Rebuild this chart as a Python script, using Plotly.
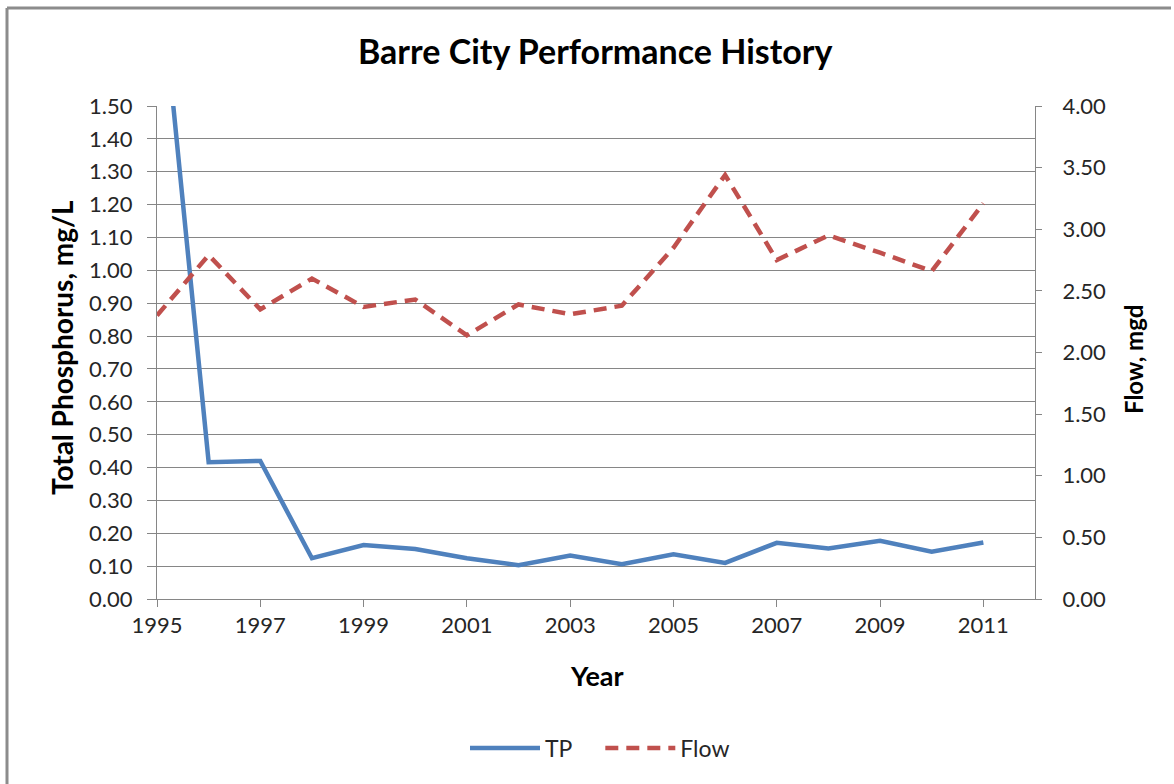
import plotly.graph_objects as go

years = list(range(1995, 2012))
tp = [2.00, 0.416, 0.420, 0.124, 0.164, 0.152, 0.124, 0.103, 0.132,
      0.106, 0.136, 0.110, 0.171, 0.154, 0.177, 0.144, 0.172]
flow = [2.30, 2.79, 2.35, 2.60, 2.37, 2.43, 2.14, 2.39, 2.31,
        2.38, 2.85, 3.44, 2.75, 2.95, 2.81, 2.66, 3.21]

left_ticks = [round(i * 0.1, 2) for i in range(16)]
right_ticks = [round(i * 0.5, 2) for i in range(9)]
x_ticks = list(range(1995, 2012, 2))

FONT = "Lato"
W, H = 1174, 784
L, R, T, B = 157, 139, 106, 185
pw, ph = W - L - R, H - T - B

fig = go.Figure()
fig.add_trace(go.Scatter(x=years, y=tp, name="TP&nbsp;&nbsp;&nbsp;&nbsp;", mode="lines",
                         line=dict(color="#4F81BD", width=4.5), yaxis="y"))
fig.add_trace(go.Scatter(x=years, y=flow, name="Flow", mode="lines",
                         line=dict(color="#C0504D", width=4.5, dash="13px,8px"),
                         yaxis="y2"))

axis_col = "#868686"
tick_font = dict(size=22, color="#262626")
fig.update_layout(
    width=W, height=H,
    margin=dict(l=L, r=R, t=T, b=B, autoexpand=False),
    paper_bgcolor="white", plot_bgcolor="white",
    font=dict(family=FONT, size=20, color="#262626"),
    title=dict(text="<b>Barre City Performance History</b>",
               x=0.507, xref="container", xanchor="center",
               y=1 - 52 / H, yref="container", yanchor="middle",
               font=dict(family=FONT, size=34, color="black")),
    xaxis=dict(range=[1995, 2012], tickmode="array", tickvals=x_ticks,
               ticktext=[str(v) for v in x_ticks],
               showgrid=False, zeroline=False, showline=True,
               linecolor=axis_col, linewidth=1,
               ticks="outside", ticklen=7, tickcolor=axis_col,
               tickfont=tick_font),
    yaxis=dict(range=[0, 1.5], tickmode="array", tickvals=left_ticks,
               ticktext=[f"{v:.2f}" for v in left_ticks],
               showgrid=True, gridcolor=axis_col, gridwidth=1,
               zeroline=False, showline=True, linecolor=axis_col,
               ticks="outside", ticklen=9, tickcolor=axis_col,
               ticklabelstandoff=10, tickfont=tick_font),
    yaxis2=dict(range=[0, 4], tickmode="array", tickvals=right_ticks,
                ticktext=[f"{v:.2f}" for v in right_ticks],
                overlaying="y", side="right", showgrid=False,
                zeroline=False, showline=True, linecolor=axis_col,
                ticks="outside", ticklen=6, tickcolor=axis_col,
                ticklabelstandoff=16, tickfont=tick_font),
    legend=dict(orientation="h", x=(600 - L) / pw, xanchor="center",
                y=-(748 - (T + ph)) / ph, yanchor="middle",
                itemwidth=70, font=dict(size=23), bgcolor="rgba(0,0,0,0)"),
    showlegend=True,
)

annots = [
    dict(text="<b>Total Phosphorus, mg/L</b>", x=(62 - L) / pw, y=(T + ph - 348) / ph,
         textangle=-90, font=dict(size=28, color="black")),
    dict(text="<b>Flow, mgd</b>", x=(1133 - L) / pw, y=(T + ph - 360) / ph,
         textangle=-90, font=dict(size=24, color="black")),
    dict(text="<b>Year</b>", x=(597 - L) / pw, y=(T + ph - 675) / ph,
         font=dict(size=27, color="black")),
]
for a in annots:
    fig.add_annotation(xref="paper", yref="paper", showarrow=False,
                       xanchor="center", yanchor="middle", **a)

# outer chart frame (top and left edges visible)
fx0 = (7 - L) / pw
fx1 = (1171 - L) / pw
fy_top = (T + ph - 8) / ph
fy_bot = (T + ph - 800) / ph
fig.add_shape(type="line", xref="paper", yref="paper", x0=fx0, x1=fx1,
              y0=fy_top, y1=fy_top, line=dict(color="#8c8c8c", width=3))
fig.add_shape(type="line", xref="paper", yref="paper", x0=fx0, x1=fx0,
              y0=fy_top, y1=fy_bot, line=dict(color="#8c8c8c", width=3))

fig.write_html("out.html",
               config={"displayModeBar": False},
               post_script="document.body.style.margin='0px';"
                           "document.body.style.overflow='hidden';")
